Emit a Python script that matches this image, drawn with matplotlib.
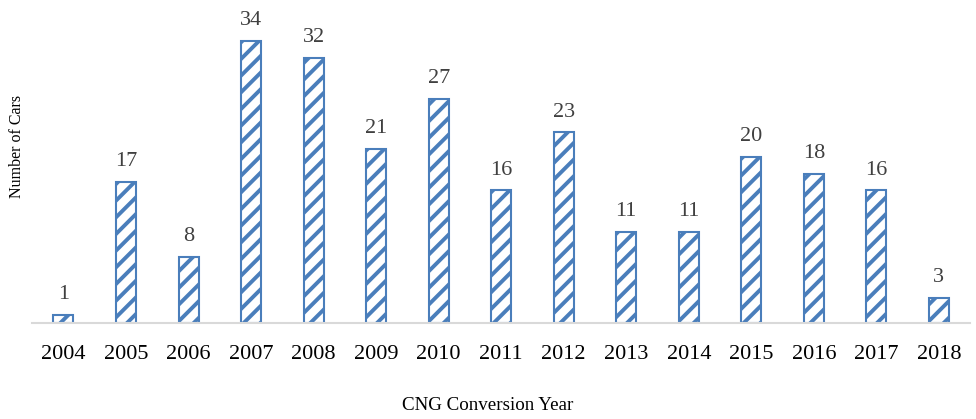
import matplotlib.pyplot as plt
import numpy as np

years = ['2004', '2005', '2006', '2007', '2008', '2009', '2010', '2011',
         '2012', '2013', '2014', '2015', '2016', '2017', '2018']
cars = [1, 17, 8, 34, 32, 21, 27, 16, 23, 11, 11, 20, 18, 16, 3]

plt.rcParams['font.family'] = ['Liberation Serif', 'DejaVu Serif']
plt.rcParams['hatch.linewidth'] = 2.8
plt.rcParams['hatch.color'] = '#4a7ebb'

fig = plt.figure(figsize=(9.76, 4.19), dpi=100)
ax = fig.add_axes([0.033, 0.229, 0.961, 0.76])

x = np.arange(len(years))
bars = ax.bar(x, cars, width=0.32, color='white', edgecolor='#4a7ebb',
              linewidth=1.5, hatch='//')

for xi, v in zip(x, cars):
    ax.text(xi, v + 1.3, str(v), ha='center', va='bottom',
            fontsize=16, color='#404040')

ax.set_xlim(-0.5, len(years) - 0.5)
ax.set_ylim(0, 38.4)
ax.set_xticks(x)
ax.set_xticklabels(years, fontsize=16)
ax.tick_params(axis='x', length=0, pad=16)
ax.set_yticks([])
for s in ['top', 'left', 'right']:
    ax.spines[s].set_visible(False)
ax.spines['bottom'].set_color('#d9d9d9')
ax.spines['bottom'].set_linewidth(1.5)

fig.text(0.5, 0.033, 'CNG Conversion Year', ha='center', va='center',
         fontsize=13.7)
fig.text(0.017, 0.65, 'Number of Cars', rotation=90, va='center', ha='center',
         fontsize=11.5)

fig.savefig('out.png', dpi=100)
